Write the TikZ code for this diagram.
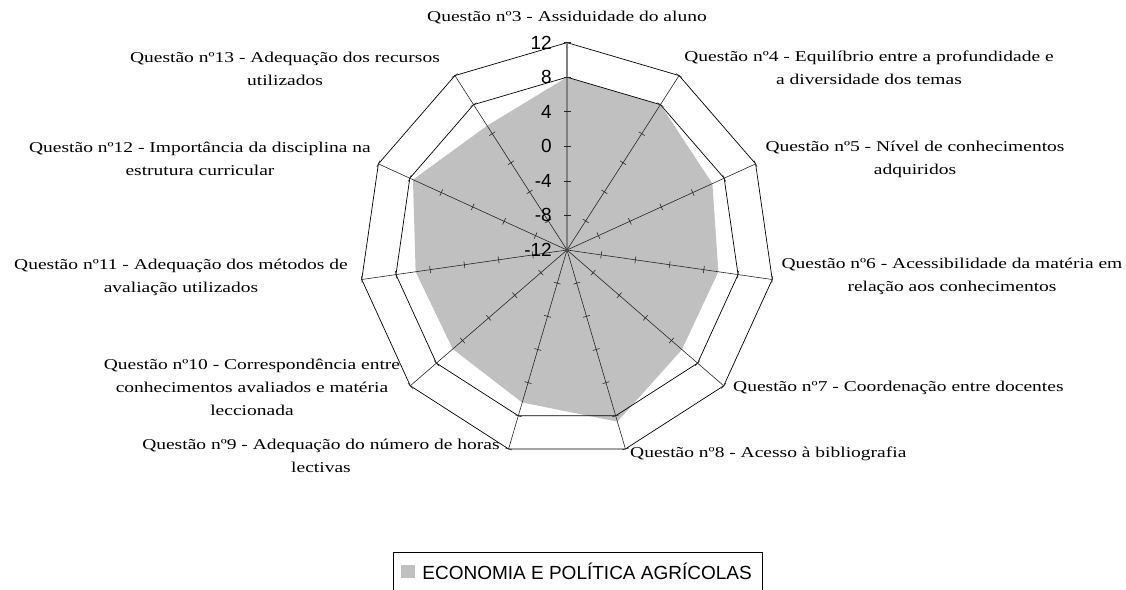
\documentclass[tikz,border=0pt]{standalone}
\usepackage{fontspec}
\setmainfont{Liberation Serif}
\newfontfamily\qfont[FakeStretch=1.3]{Liberation Serif}
\newfontfamily\axisfont{Liberation Sans}
\usepackage{tikz}
\usetikzlibrary{positioning}
\definecolor{datagray}{RGB}{192,192,192}
\definecolor{axisgray}{RGB}{128,128,128}
\tikzset{
    qlabel/.style={font=\qfont\fontsize{15}{23}\selectfont, align=center, inner sep=0},
    vallabel/.style={font=\axisfont\fontsize{19}{19}\selectfont, anchor=east, inner sep=0},
    ring/.style={draw=black, line width=0.7pt},
    spoke/.style={draw=black!85, line width=0.6pt},
    mainaxis/.style={draw=axisgray, line width=1.4pt},
}

\begin{document}
\begin{tikzpicture}[x=1pt, y=1pt]
    \useasboundingbox (-567,-339) rectangle (559,250);
    \def\u{8.64}
    \coordinate (c) at (0,0);
    % data
    \foreach \v [count=\i from 0] in {8,8,6.5,5.7,5.6,8.7,6.4,5.5,5.7,7.6,5.1}
        \coordinate (d\i) at ({90-\i*360/11}:{(\v+12)*\u});
    \fill[datagray] (d0) \foreach \i in {1,...,10}{-- (d\i)} -- cycle;
    % rings at 8 and 12
    \foreach \i in {0,...,10} {
        \coordinate (o\i) at ({90-\i*360/11}:{24*\u});
        \coordinate (m\i) at ({90-\i*360/11}:{20*\u});
    }
    \draw[ring] (o0) \foreach \i in {1,...,10}{-- (o\i)} -- cycle;
    \draw[ring] (m0) \foreach \i in {1,...,10}{-- (m\i)} -- cycle;
    % spokes and ticks
    \foreach \i in {1,...,10}
        \draw[spoke] (c) -- (o\i);
    \draw[mainaxis] (c) -- (o0);
    \foreach \i in {0,...,10}
        \foreach \k in {4,8,12,16,20,24}
            \draw[spoke] ({90-\i*360/11}:{\k*\u}) ++({-\i*360/11}:3.5) -- ++({180-\i*360/11}:7);
    \fill[black!70] (c) circle (2);
    % value labels
    \foreach \v [count=\j] in {12,8,4,0,-4,-8,-12}
        \node[vallabel] (val\j) at (-15,{(\v+12)*\u}) {\v};
    % question labels
    \node[qlabel] (q3) at (0,232) {Questão nº3 - Assiduidade do aluno};
    \node[qlabel] (q4) at (302,182) {Questão nº4 - Equilíbrio entre a profundidade e\\a diversidade dos temas};
    \node[qlabel] (q5) at (348,91) {Questão nº5 - Nível de conhecimentos\\adquiridos};
    \node[qlabel] (q6) at (385,-26) {Questão nº6 - Acessibilidade da matéria em\\relação aos conhecimentos};
    \node[qlabel, anchor=west] (q7) at (166,-138) {Questão nº7 - Coordenação entre docentes};
    \node[qlabel, anchor=west] (q8) at (63,-204) {Questão nº8 - Acesso à bibliografia};
    \node[qlabel] (q9) at (-246,-206) {Questão nº9 - Adequação do número de horas\\lectivas};
    \node[qlabel] (q10) at (-315,-137.5) {Questão nº10 - Correspondência entre\\conhecimentos avaliados e matéria\\leccionada};
    \node[qlabel] (q11) at (-386,-27.5) {Questão nº11 - Adequação dos métodos de\\avaliação utilizados};
    \node[qlabel] (q12) at (-367,91) {Questão nº12 - Importância da disciplina na\\estrutura curricular};
    \node[qlabel] (q13) at (-282,181.5) {Questão nº13 - Adequação dos recursos\\utilizados};
    % legend
    \draw[line width=0.7pt] (-174,-345) -- (-174,-302) -- (195,-302) -- (195,-345);
    \node[fill=datagray, minimum width=14, minimum height=13, inner sep=0] (key) at (-159,-321.5) {};
    \node[font=\axisfont\fontsize{19}{19}\selectfont, inner sep=0, right=7pt of key] (legtxt) {ECONOMIA E POLÍTICA AGRÍCOLAS};
\end{tikzpicture}
\end{document}
